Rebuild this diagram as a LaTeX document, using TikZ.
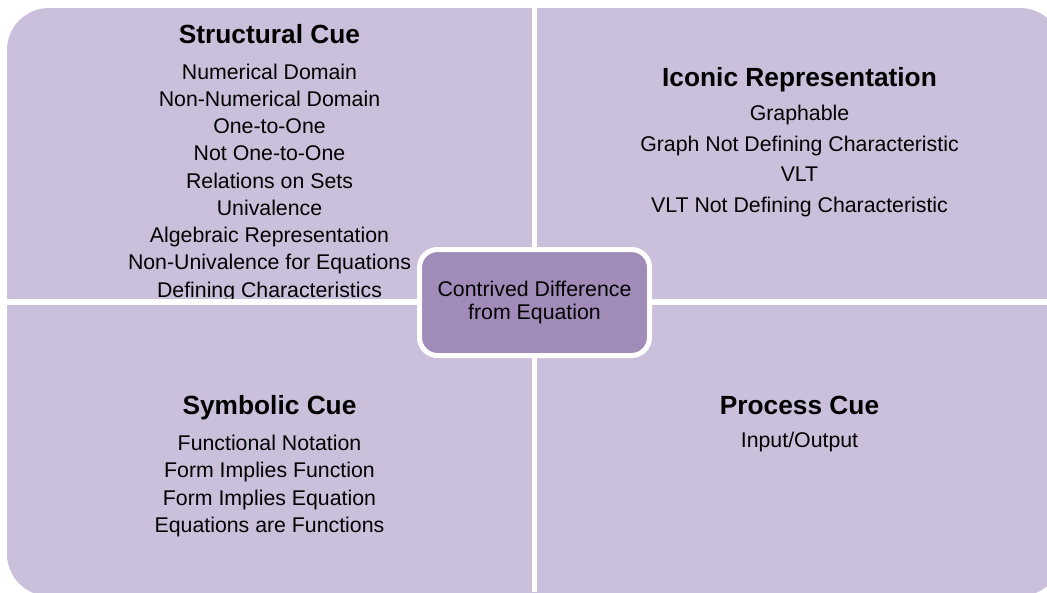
\documentclass[tikz,border=0pt]{standalone}
\usepackage{fontspec}
\setmainfont{Liberation Sans}
\definecolor{quadfill}{RGB}{203,192,219}
\definecolor{corefill}{RGB}{161,139,185}
\begin{document}
\begin{tikzpicture}[x=1pt,y=-1pt,
  head/.style={anchor=base,inner sep=0pt,font=\fontsize{26.3}{30}\selectfont\bfseries},
  item/.style={anchor=base,inner sep=0pt,font=\fontsize{21.3}{25}\selectfont},
  corebox/.style={draw=white,line width=5pt,fill=corefill,rounded corners=18pt,
    minimum width=230pt,minimum height=106pt,inner sep=0pt,align=center,
    font=\fontsize{21.3}{22.5}\selectfont}]
\useasboundingbox (0,0) rectangle (1047,592);
\begin{scope}
  \clip (0,0) rectangle (1047,592);
  \fill[quadfill, rounded corners=42pt] (7,8) rectangle (1062,596);
\end{scope}
% Structural Cue
\node[head] (sh) at (269.5,43.3) {Structural Cue};
\node[item] (s1) at (269.5,79) {Numerical Domain};
\node[item] (s2) at (269.5,106.25) {Non-Numerical Domain};
\node[item] (s3) at (269.5,133.5) {One-to-One};
\node[item] (s4) at (269.5,160.75) {Not One-to-One};
\node[item] (s5) at (269.5,188) {Relations on Sets};
\node[item] (s6) at (269.5,215.25) {Univalence};
\node[item] (s7) at (269.5,242.5) {Algebraic Representation};
\node[item] (s8) at (269.5,269.75) {Non-Univalence for Equations};
\node[item] (s9) at (269.5,297) {Defining Characteristics};
% Iconic Representation
\node[head] (ih) at (799.5,86) {Iconic Representation};
\node[item] (i1) at (799.5,120.5) {Graphable};
\node[item] (i2) at (799.5,151) {Graph Not Defining Characteristic};
\node[item] (i3) at (799.5,181.7) {VLT};
\node[item] (i4) at (799.5,212.5) {VLT Not Defining Characteristic};
% Symbolic Cue
\node[head] (yh) at (269.5,414.3) {Symbolic Cue};
\node[item] (y1) at (269.5,450) {Functional Notation};
\node[item] (y2) at (269.5,477.6) {Form Implies Function};
\node[item] (y3) at (269.5,505.2) {Form Implies Equation};
\node[item] (y4) at (269.5,532.8) {Equations are Functions};
% Process Cue
\node[head] (ph) at (799.5,414.3) {Process Cue};
\node[item] (p1) at (799.5,447) {Input/Output};
% gaps between quadrants
\fill[white] (532,0) rectangle (537,592);
\fill[white] (0,299.3) rectangle (1047,305);
% centre box
\node[corebox] (core) at (534.5,302.5) {Contrived Difference\\from Equation};
\end{tikzpicture}
\end{document}
